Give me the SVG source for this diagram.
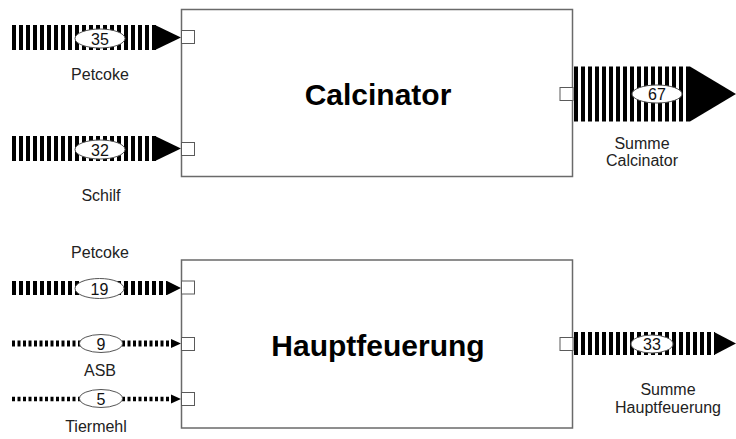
<svg xmlns="http://www.w3.org/2000/svg" width="736" height="439" viewBox="0 0 736 439">
<style>
.box{fill:#fff;stroke:#6a6a6a;stroke-width:1.5}
.port{fill:#fff;stroke:#5a5a5a;stroke-width:1}
.flow{stroke:#000;fill:none;stroke-linecap:butt}
.thick{stroke-dasharray:4 3}
.dot{stroke-dasharray:3 2.5}
.head{fill:#000}
.tag{fill:#fff;stroke:#555;stroke-width:1}
.num{font-family:"Liberation Sans",Arial,sans-serif;font-size:16px;fill:#111;text-anchor:middle}
.lbl{font-family:"Liberation Sans",Arial,sans-serif;font-size:16px;fill:#222;text-anchor:middle}
.title{font-family:"Liberation Sans",Arial,sans-serif;font-size:30px;font-weight:bold;fill:#000;text-anchor:middle}
</style>
<rect width="736" height="439" fill="#fff"/>
<g id="connectors">
  <line class="flow thick" x1="12" y1="37.5" x2="156" y2="37.5" stroke-width="25"/>
  <polygon class="head" points="155,25 181,37.5 155,50"/>
  <line class="flow thick" x1="12" y1="148.5" x2="156" y2="148.5" stroke-width="25"/>
  <polygon class="head" points="155,136 181,148.5 155,161"/>
  <line class="flow thick" x1="574" y1="94" x2="691" y2="94" stroke-width="55"/>
  <polygon class="head" points="690,66.5 736,94 690,121.5"/>
  <line class="flow thick" x1="12" y1="288" x2="167" y2="288" stroke-width="14"/>
  <polygon class="head" points="167,281 181,288 167,295"/>
  <line class="flow dot" x1="12" y1="343.5" x2="172" y2="343.5" stroke-width="6"/>
  <polygon class="head" points="171,339 181,343.5 171,348"/>
  <line class="flow dot" x1="12" y1="399" x2="172" y2="399" stroke-width="4.5"/>
  <polygon class="head" points="171,394.5 181,399 171,403.5"/>
  <line class="flow thick" x1="574" y1="343.5" x2="715" y2="343.5" stroke-width="23"/>
  <polygon class="head" points="714,332 736,343.5 714,355"/>
  <ellipse class="tag" cx="100" cy="38.5" rx="25" ry="9.5"/>
  <text class="num" x="100" y="44.5">35</text>
  <ellipse class="tag" cx="100" cy="149.5" rx="25" ry="9.5"/>
  <text class="num" x="100" y="155.5">32</text>
  <ellipse class="tag" cx="657" cy="94" rx="25" ry="9"/>
  <text class="num" x="657" y="100">67</text>
  <ellipse class="tag" cx="99.5" cy="288.5" rx="24.5" ry="10"/>
  <text class="num" x="99.5" y="294.5">19</text>
  <ellipse class="tag" cx="101" cy="343.5" rx="21.5" ry="9"/>
  <text class="num" x="101" y="349.5">9</text>
  <ellipse class="tag" cx="101" cy="398.5" rx="21.5" ry="9"/>
  <text class="num" x="101" y="404.5">5</text>
  <ellipse class="tag" cx="652" cy="344" rx="21" ry="9"/>
  <text class="num" x="652" y="350">33</text>
  <text class="lbl" x="100" y="80">Petcoke</text>
  <text class="lbl" x="101" y="201">Schilf</text>
  <text class="lbl" x="642" y="149">Summe</text>
  <text class="lbl" x="642" y="166">Calcinator</text>
  <text class="lbl" x="100" y="258">Petcoke</text>
  <text class="lbl" x="100" y="376">ASB</text>
  <text class="lbl" x="96" y="432">Tiermehl</text>
  <text class="lbl" x="668" y="395">Summe</text>
  <text class="lbl" x="668" y="413">Hauptfeuerung</text>
</g>
<g id="calcinator">
  <rect class="box" x="181.5" y="9.5" width="391" height="167"/>
  <rect class="port" x="181.5" y="30.5" width="13" height="13"/>
  <rect class="port" x="181.5" y="142.5" width="13" height="13"/>
  <rect class="port" x="560" y="87.5" width="13" height="13"/>
  <text class="title" x="378" y="105">Calcinator</text>
</g>
<g id="hauptfeuerung">
  <rect class="box" x="181.5" y="260" width="391" height="168"/>
  <rect class="port" x="181.5" y="281" width="13" height="13"/>
  <rect class="port" x="181.5" y="337.5" width="13" height="13"/>
  <rect class="port" x="181.5" y="392.5" width="13" height="13"/>
  <rect class="port" x="560" y="337.5" width="13" height="13"/>
  <text class="title" x="378" y="356">Hauptfeuerung</text>
</g>
</svg>
